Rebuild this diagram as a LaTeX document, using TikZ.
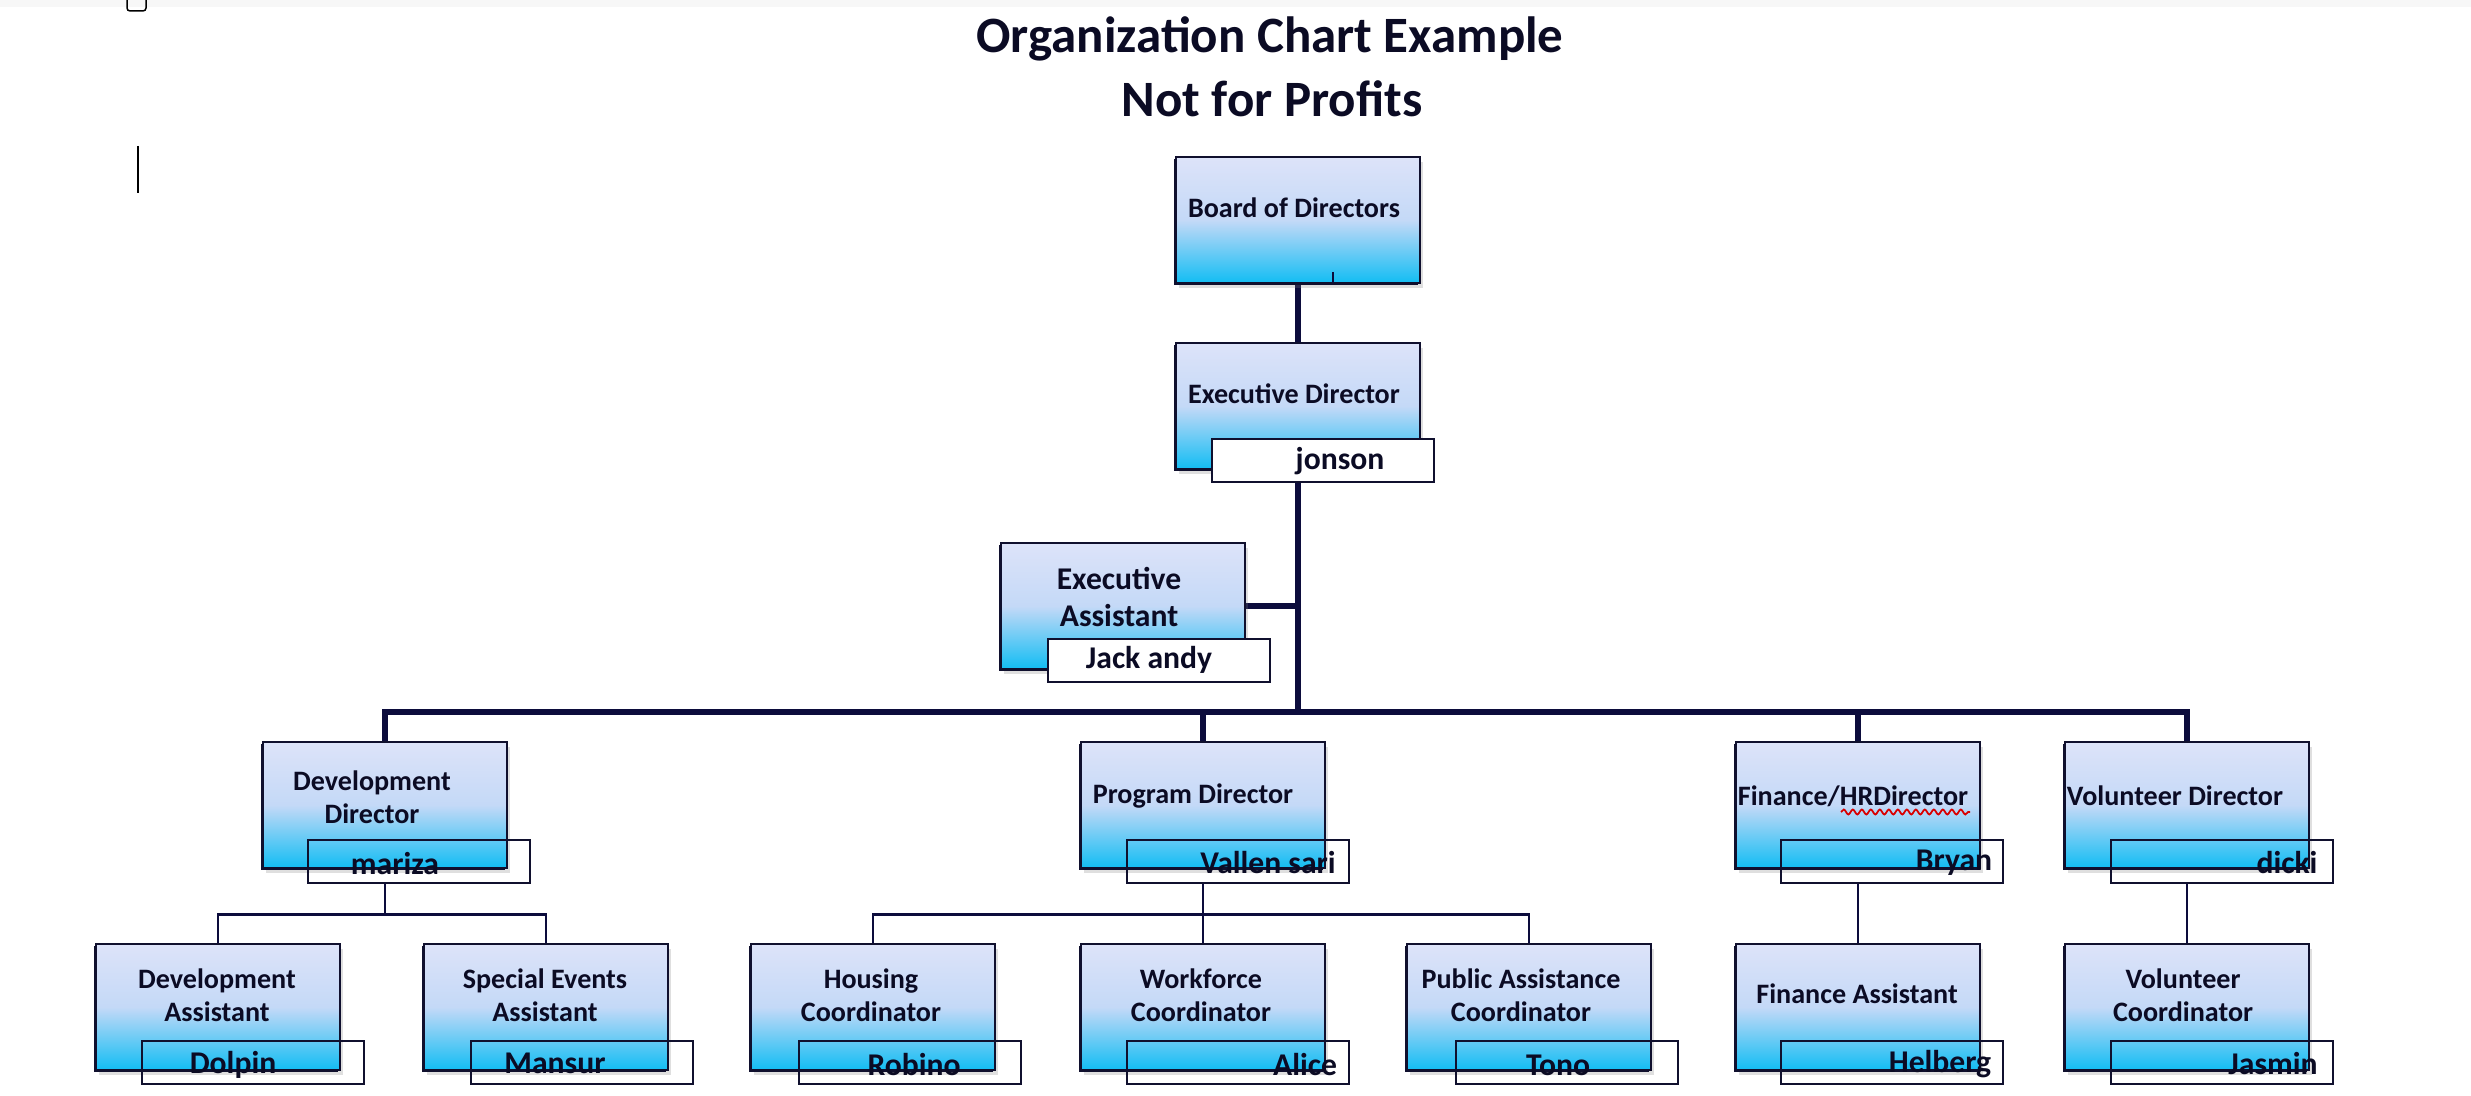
\documentclass[tikz,border=0pt]{standalone}
\usepackage{fontspec}
\setmainfont{Carlito}
\usetikzlibrary{backgrounds,shadows,decorations.pathmorphing}

\definecolor{boxline}{HTML}{10102E}
\definecolor{linkcol}{HTML}{0C0C3C}
\definecolor{boxtop}{HTML}{DDE3F9}
\definecolor{boxmid}{HTML}{C4D9F7}
\definecolor{boxbot}{HTML}{12BDF3}
\definecolor{inkcol}{HTML}{0B0B24}

\begin{document}
\begin{tikzpicture}[x=0.2mm, y=-0.2mm,
    post/.style={rectangle, draw=boxline, line width=0.35mm, inner sep=0pt,
        minimum width=48.8mm, minimum height=25.2mm,
        top color=boxtop, bottom color=boxbot, middle color=boxmid,
        drop shadow={opacity=0.25, shadow xshift=0.6mm, shadow yshift=-1mm},
        general shadow={fill=boxline, shadow xshift=-0.45mm, shadow yshift=-0.45mm}},
    namebox/.style={rectangle, draw=boxline, line width=0.4mm, inner sep=0pt,
        minimum width=44.4mm, minimum height=8.6mm},
    posttext/.style={align=center, text=inkcol, font=\bfseries\fontsize{16}{19}\selectfont},
    nametext/.style={text=inkcol, font=\bfseries\fontsize{18}{21}\selectfont},
    titletext/.style={text=inkcol, font=\bfseries\fontsize{29}{36}\selectfont},
    trunk/.style={draw=linkcol, line width=1.2mm},
    link/.style={draw=linkcol, line width=0.5mm}]

    \useasboundingbox (0,0) rectangle (2471,1096);

    \fill[black!3] (0,0) rectangle (2471,7);
    \draw[line width=0.3mm, rounded corners=0.6mm] (127,-6) rectangle (146,11);
    \draw[line width=0.35mm] (138,146) -- (138,193);

    \node[titletext, anchor=base] (title1) at (1270,53) {Organization Chart Example};
    \node[titletext, anchor=base] (title2) at (1272,117) {Not for Profits};

    \node[post] (board) at (1298,220) {};
    \node[post] (exec) at (1298,406) {};
    \node[post] (ea) at (1123,606) {};

    \node[post] (dev) at (385,805) {};
    \node[post] (prog) at (1203,805) {};
    \node[post] (fin) at (1858,805) {};
    \node[post] (vol) at (2187,805) {};

    \node[post] (devasst) at (218,1007) {};
    \node[post] (special) at (546,1007) {};
    \node[post] (housing) at (873,1007) {};
    \node[post] (workforce) at (1203,1007) {};
    \node[post] (public) at (1529,1007) {};
    \node[post] (finasst) at (1858,1007) {};
    \node[post] (volco) at (2187,1007) {};

    \draw[line width=0.35mm, draw=linkcol] (1333,272) -- (1333,283);

    \node[namebox, fill=white] (jonson) at (1323,461) {};
    \node[namebox, fill=white] (jack) at (1159,660) {};
    \node[namebox] (mariza) at (419,861) {};
    \node[namebox] (vallen) at (1238,861) {};
    \node[namebox] (bryan) at (1892,861) {};
    \node[namebox] (dicki) at (2222,861) {};
    \node[namebox] (dolpin) at (253,1062) {};
    \node[namebox] (mansur) at (582,1062) {};
    \node[namebox] (robino) at (910,1062) {};
    \node[namebox] (alice) at (1238,1062) {};
    \node[namebox] (tono) at (1567,1062) {};
    \node[namebox] (helberg) at (1892,1062) {};
    \node[namebox] (jasmin) at (2222,1062) {};

    \begin{scope}[on background layer]
        \coordinate (hub) at (1298,712);
        \draw[trunk] (board.south) -- (exec.north);
        \draw[trunk] (exec.south) -- (hub);
        \draw[trunk] (ea.east) -- (ea.east -| hub);
        \draw[trunk] (dev.north) |- (hub) -| (vol.north);
        \draw[trunk] (prog.north) -- (prog.north |- hub);
        \draw[trunk] (fin.north) -- (fin.north |- hub);

        \draw[link] (dev.south |- mariza.south) -- ++(0,31) coordinate (devfork);
        \draw[link] (devasst.north) |- (devfork) -| (special.north);
        \draw[link] (prog.south |- vallen.south) -- (workforce.north);
        \path (prog.south |- vallen.south) ++(0,31) coordinate (progfork);
        \draw[link] (housing.north) |- (progfork) -| (public.north);
        \draw[link] (fin.south |- bryan.south) -- (finasst.north);
        \draw[link] (vol.south |- dicki.south) -- (volco.north);
    \end{scope}

    \node[posttext] (t-board) at (1294,208) {Board of Directors};
    \node[posttext] (t-exec) at (1294,394) {Executive Director};
    \node[posttext, font=\bfseries\fontsize{18}{21}\selectfont] (t-ea) at (1119,597) {Executive\\Assistant};
    \node[posttext] (t-dev) at (372,797) {Development\\Director};
    \node[posttext] (t-prog) at (1193,796) {Program Director};
    \node[posttext] (t-fin) at (1853,796) {Finance/HRDirector};
    \node[posttext] (t-vol) at (2175,796) {Volunteer Director};
    \node[posttext] (t-devasst) at (217,995) {Development\\Assistant};
    \node[posttext] (t-special) at (545,995) {Special Events\\Assistant};
    \node[posttext] (t-housing) at (871,995) {Housing\\Coordinator};
    \node[posttext] (t-workforce) at (1201,995) {Workforce\\Coordinator};
    \node[posttext] (t-public) at (1521,995) {Public Assistance\\Coordinator};
    \node[posttext] (t-finasst) at (1857,994) {Finance Assistant};
    \node[posttext] (t-volco) at (2183,995) {Volunteer\\Coordinator};

    \draw[red!85!black, line width=0.35mm, decorate,
        decoration={snake, amplitude=0.5mm, segment length=1.8mm}] (1841,812) -- (1970,812);

    \node[nametext] (n-jonson) at (1340,461) {jonson};
    \node[nametext] (n-jack) at (1149,660) {Jack andy};
    \node[nametext] (n-mariza) at (395,864) {mariza};
    \node[nametext] (n-vallen) at (1268,863) {Vallen sari};
    \node[nametext] (n-bryan) at (1954,863) {Bryan};
    \node[nametext] (n-dicki) at (2287,863) {dicki};
    \node[nametext] (n-dolpin) at (233,1065) {Dolpin};
    \node[nametext] (n-mansur) at (555,1063) {Mansur};
    \node[nametext] (n-robino) at (914,1065) {Robino};
    \node[nametext] (n-alice) at (1305,1065) {Alice};
    \node[nametext] (n-tono) at (1558,1065) {Tono};
    \node[nametext] (n-helberg) at (1940,1064) {Helberg};
    \node[nametext] (n-jasmin) at (2273,1064) {Jasmin};
\end{tikzpicture}
\end{document}
